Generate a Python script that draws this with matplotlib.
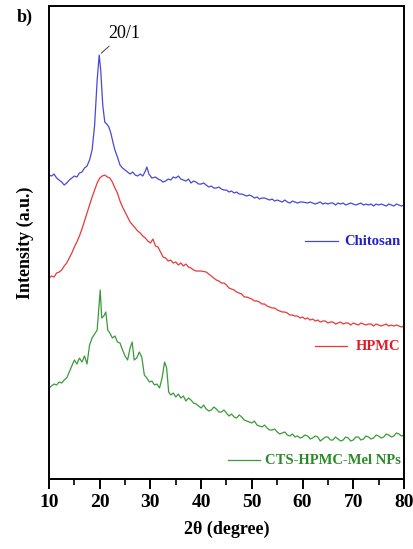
import numpy as np
import matplotlib
matplotlib.use("Agg")
import matplotlib.pyplot as plt
from matplotlib.ticker import MultipleLocator

# 2theta (degree) / intensity (a.u.)
chit_x = [10, 10.5, 11, 11.5, 12, 12.5, 13, 13.5, 14, 14.5, 15, 15.5, 16, 16.5, 17, 17.5, 18, 18.5, 19, 19.5,
          19.9, 20.2, 20.6, 21, 21.4, 21.8, 22.2, 22.6, 23, 23.5, 24, 24.5, 25, 25.5, 26, 26.5, 27, 27.5, 28, 28.5,
          29, 29.3, 29.7, 30.3, 31, 31.5, 32, 32.5, 33, 33.5, 34, 34.5, 35, 35.5, 36, 36.5, 37, 37.5, 38, 38.5,
          39, 39.5, 40, 40.5, 41, 41.5, 42, 42.5, 43, 43.5, 44, 44.5, 45, 45.5, 46, 46.5, 47, 47.5, 48, 48.5,
          49, 49.5, 50, 50.5, 51, 51.5, 52, 52.5, 53, 53.5, 54, 54.5, 55, 55.5, 56, 56.5, 57, 57.5, 58, 58.5,
          59, 59.5, 60, 61, 61.5, 62, 62.5, 63, 63.5, 64, 64.5, 65, 65.5, 66, 66.5, 67, 67.5, 68, 68.5, 69,
          69.5, 70, 70.5, 71, 71.5, 72, 72.5, 73, 73.5, 74, 74.5, 75, 75.5, 76, 76.5, 77, 77.5, 78, 78.5, 79,
          79.5, 80]
chit_y = [304, 303, 305, 301, 299, 297, 294, 296, 299, 301, 303, 302, 306, 307, 311, 313, 319, 329, 354, 399,
          424, 409, 374, 357, 355, 352, 346, 337, 329, 322, 314, 311, 309, 307, 305, 307, 304, 303, 305, 303,
          308, 312, 305, 301, 302, 300, 299, 297, 298, 300, 299, 302, 301, 303, 300, 299, 298, 300, 296, 298,
          297, 295, 295, 296, 294, 292, 293, 291, 291, 292, 290, 289, 289, 287, 288, 286, 287, 285, 285, 284,
          283, 284, 283, 281, 282, 280, 281, 281, 280, 279, 280, 278, 279, 278, 277, 279, 277, 276, 278, 277,
          276, 277, 277, 276, 277, 276, 275, 276, 277, 275, 276, 275, 276, 276, 274, 276, 275, 276, 274, 275,
          276, 275, 274, 275, 276, 274, 275, 274, 275, 273, 275, 274, 275, 274, 273, 275, 274, 273, 275, 274,
          273, 274]

hpmc_x = [10, 10.5, 11, 11.5, 12, 12.5, 13, 13.5, 14, 14.5, 15, 15.5, 16, 16.5, 17, 17.5, 18, 18.5, 19, 19.5,
          20, 20.5, 21, 21.5, 22, 22.5, 23, 23.5, 24, 24.5, 25, 25.5, 26, 26.5, 27, 27.5, 28, 28.5, 29, 29.5,
          30, 30.5, 31, 31.5, 32, 32.5, 33, 33.5, 34, 34.5, 35, 35.5, 36, 36.5, 37, 37.5, 38, 38.5, 39, 40,
          41, 42, 42.5, 43, 43.5, 44, 44.5, 45, 45.5, 46, 46.5, 47, 47.5, 48, 48.5, 49, 49.5, 50, 50.5, 51,
          51.5, 52, 52.5, 53, 53.5, 54, 54.5, 55, 55.5, 56, 56.5, 57, 57.5, 58, 58.5, 59, 59.5, 60, 60.5, 61,
          61.5, 62, 62.5, 63, 63.5, 64, 64.5, 65, 65.5, 66, 66.5, 67, 67.5, 68, 68.5, 69, 69.5, 70, 70.5, 71,
          71.5, 72, 72.5, 73, 73.5, 74, 74.5, 75, 75.5, 76, 76.5, 77, 77.5, 78, 78.5, 79, 79.5, 80]
hpmc_y = [201, 203, 202, 206, 207, 209, 213, 216, 221, 226, 232, 237, 243, 250, 258, 266, 274, 282, 289, 296,
          301, 303, 304, 302, 301, 297, 291, 286, 278, 272, 267, 262, 257, 254, 251, 248, 246, 243, 241, 238,
          236, 240, 233, 232, 227, 222, 221, 218, 219, 216, 217, 214, 216, 213, 215, 212, 211, 209, 208, 208,
          207, 203, 201, 199, 198, 196, 196, 194, 191, 190, 189, 187, 186, 185, 182, 182, 181, 180, 178, 178,
          177, 175, 175, 173, 172, 171, 171, 169, 168, 167, 167, 166, 164, 164, 163, 163, 161, 162, 160, 161,
          159, 160, 158, 159, 157, 158, 158, 156, 157, 157, 155, 156, 157, 155, 156, 156, 154, 156, 155, 154,
          156, 155, 154, 155, 155, 153, 155, 154, 153, 154, 155, 153, 154, 153, 154, 153, 152, 153]

mel_x = [10, 10.5, 11, 11.5, 12, 12.5, 13, 13.5, 14, 14.5, 15, 15.5, 16, 16.5, 17, 17.5, 18, 18.5, 19, 19.5,
         19.8, 20.1, 20.4, 20.8, 21.2, 21.6, 22, 22.5, 23, 23.5, 24, 24.5, 25, 25.5, 26, 26.4, 26.8, 27.3, 27.8, 28.3,
         28.8, 29.3, 29.8, 30.3, 30.8, 31.3, 31.8, 32.3, 32.8, 33.2, 33.6, 34, 34.5, 35, 35.5, 36, 36.5, 37, 37.5, 38,
         38.5, 39, 39.5, 40, 40.5, 41, 41.5, 42, 42.5, 43, 43.5, 44, 44.5, 45, 45.5, 46, 46.5, 47, 47.5, 48,
         48.5, 49, 49.5, 50, 50.5, 51, 51.5, 52, 52.5, 53, 53.5, 54, 54.5, 55, 55.5, 56, 56.5, 57, 57.5, 58,
         58.5, 59, 59.5, 60, 60.5, 61, 61.5, 62, 62.5, 63, 63.5, 64, 64.5, 65, 65.5, 66, 66.5, 67, 67.5, 68,
         68.5, 69, 69.5, 70, 70.5, 71, 71.5, 72, 72.5, 73, 73.5, 74, 74.5, 75, 75.5, 76, 76.5, 77, 77.5, 78,
         78.5, 79, 79.5, 80]
mel_y = [91, 93, 95, 94, 97, 96, 99, 101, 107, 113, 119, 115, 121, 117, 123, 115, 134, 141, 145, 149,
         169, 189, 161, 163, 167, 149, 146, 141, 143, 137, 136, 129, 123, 119, 131, 137, 119, 121, 127, 122,
         104, 101, 97, 98, 94, 95, 91, 101, 117, 111, 87, 84, 86, 82, 85, 81, 83, 78, 81, 79,
         76, 75, 73, 71, 74, 70, 68, 69, 72, 70, 67, 67, 69, 66, 63, 65, 62, 61, 64, 62,
         59, 58, 57, 56, 58, 54, 53, 52, 54, 51, 49, 49, 50, 47, 45, 46, 47, 44, 43, 45,
         42, 43, 41, 42, 44, 43, 40, 41, 43, 42, 38, 40, 42, 42, 39, 39, 42, 40, 38, 39,
         42, 41, 38, 39, 42, 42, 39, 40, 43, 42, 40, 41, 44, 43, 41, 42, 45, 44, 42, 43,
         46, 45, 43, 44]

names = ["Chitosan", "HPMC", "CTS-HPMC-Mel NPs"]
line_colors = ["#4848d6", "#e83838", "#3a9a3a"]
text_colors = ["#2020c8", "#e01b2a", "#2a8a2a"]
label_y = [238, 133, 19]
label_x0 = [60.5, 62.4, 45.2]
label_x1 = [67.0, 68.7, 51.7]

serif = ["Liberation Serif", "DejaVu Serif"]
plt.rcParams["font.family"] = serif

fig = plt.figure(figsize=(4.13, 5.49), dpi=100)
ax = fig.add_axes([0.1186, 0.1275, 0.8596, 0.8615])

for xs, ys, c in zip([chit_x, hpmc_x, mel_x], [chit_y, hpmc_y, mel_y], line_colors):
    ax.plot(xs, ys, color=c, lw=0.9)

for n, lc, tc, ly, x0, x1 in zip(names, line_colors, text_colors, label_y, label_x0, label_x1):
    ax.plot([x0, x1], [ly, ly], color=lc, lw=0.9)
    ax.text(79.3, ly, n, color=tc, fontsize=10.5, fontweight="bold", ha="right", va="center")

ax.annotate("20/1", xy=(19.9, 424), xytext=(21.6, 446), fontsize=13,
            ha="left", va="center", arrowprops=dict(arrowstyle="-", color="#555555", lw=0.8))

ax.set_xlim(10, 80)
ax.set_ylim(0, 473)
ax.xaxis.set_major_locator(MultipleLocator(10))
ax.xaxis.set_minor_locator(MultipleLocator(5))
ax.tick_params(axis="x", which="major", direction="out", length=7, width=1.4, labelsize=14, pad=4)
ax.tick_params(axis="x", which="minor", direction="out", length=4, width=1.2)
for lab in ax.get_xticklabels():
    lab.set_fontweight("bold")
ax.set_yticks([])
for s in ax.spines.values():
    s.set_linewidth(1.4)

ax.set_xlabel("2θ (degree)", fontsize=13, fontweight="bold", labelpad=7)
ax.set_ylabel("Intensity (a.u.)", fontsize=13, fontweight="bold", labelpad=11)
fig.text(0.041, 0.968, "b)", fontsize=13, fontweight="bold", ha="left", va="center")

plt.savefig("out.png", dpi=100)
plt.close()
